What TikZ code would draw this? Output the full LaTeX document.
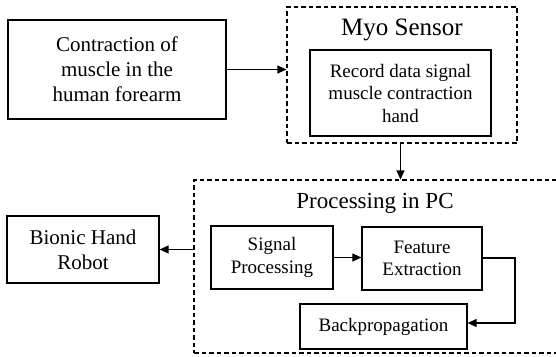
\documentclass[tikz,border=0pt]{standalone}
\usepackage{fontspec}
\setmainfont{Liberation Serif}
\usetikzlibrary{arrows.meta}
\tikzset{
  box/.style={draw, line width=1.2pt, inner sep=0pt, align=center, minimum width=#1},
  box/.default=10pt,
  dbox/.style={draw, line width=1.1pt, dash pattern=on 4.5pt off 3pt, inner sep=0pt},
  arr/.style={line width=1.1pt, -{Triangle[length=9pt,width=8pt]}},
  outer/.style={font=\fontsize{21}{25}\selectfont},
  inner/.style={font=\fontsize{19}{22.5}\selectfont},
}
\begin{document}
\begin{tikzpicture}[x=1pt,y=-1pt]
\useasboundingbox (0,0) rectangle (556,356);
% outer containers
\node[dbox, minimum width=230pt, minimum height=136pt] (myo) at (402,75) {};
\node[dbox, minimum width=376pt, minimum height=173pt] (pc) at (382,266.5) {};
\node[font=\fontsize{25}{30}\selectfont] (myot) at (402,30) {Myo Sensor};
\node[font=\fontsize{23}{28}\selectfont] (pct) at (375,203) {Processing in PC};
% boxes
\node[box=218pt, minimum height=99pt, outer] (contr) at (117,69.5) {Contraction of\\muscle in the\\human forearm};
\node[box=181pt, minimum height=86pt, inner] (rec) at (400.5,93) {Record data signal\\muscle contraction\\hand};
\node[box=152pt, minimum height=67pt, outer] (bion) at (83,249.5) {Bionic Hand\\Robot};
\node[box=122pt, minimum height=63pt, inner] (sig) at (272,257.5) {Signal\\Processing};
\node[box=120pt, minimum height=63pt, inner] (feat) at (422,258.5) {Feature\\Extraction};
\node[box=167pt, minimum height=45pt, inner] (back) at (383.5,326.5) {Backpropagation};
% connectors
\draw[arr] (contr.east) -- (contr.east -| myo.west);
\draw[arr] (rec.south |- myo.south) -- (rec.south |- pc.north);
\draw[arr] (pc.west |- bion.east) -- (bion.east);
\draw[arr] (sig.east) -- (sig.east -| feat.west);
\coordinate (c1) at (515,258);
\coordinate (c2) at (515,323);
\draw[arr] (feat.east |- c1) -- (c1) -- (c2) -- (c2 -| back.east);
\end{tikzpicture}
\end{document}
